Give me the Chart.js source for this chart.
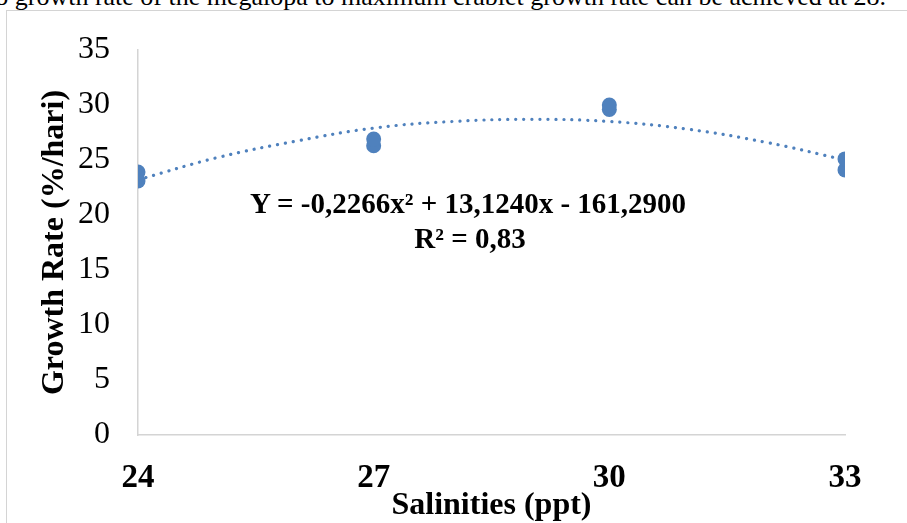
<!DOCTYPE html>
<html>
<head>
<meta charset="utf-8">
<script src="https://cdn.jsdelivr.net/npm/chart.js@4"></script>
<style>
  html, body { margin:0; padding:0; background:#fff; overflow:hidden; }
  #wrap { position:relative; width:907px; height:523px; overflow:hidden; font-family:"Liberation Serif","Times New Roman",serif; }
  #frame { position:absolute; left:6px; top:10px; width:1000px; height:600px; border:1px solid #d4d4d4; box-sizing:border-box; }
  #doc { position:absolute; left:-12px; top:-18px; white-space:nowrap; font-size:26px; color:#000; }
  #cv { position:absolute; left:0; top:0; }
  .eq { position:absolute; font-weight:bold; font-size:29px; color:#000; white-space:nowrap; transform:translate(-50%,-50%); }
</style>
</head>
<body>
<div id="wrap">
  <div id="doc">to growth rate of the megalopa to maximum crablet growth rate can be achieved at 28.</div>
  <div id="frame"></div>
  <canvas id="cv" width="907" height="523"></canvas>
  <div class="eq" style="left:468px; top:203px;">Y = -0,2266x² + 13,1240x - 161,2900</div>
  <div class="eq" style="left:470px; top:238px;">R² = 0,83</div>
</div>
<script>
// Data
const salinities = [24, 27, 30, 33];
const replicateA = [23.9, 26.9, 30.0, 25.1];
const replicateB = [23.1, 26.3, 29.6, 24.1];
const trendX = [24, 25, 26, 27, 28, 29, 30, 31, 32, 33];
const trendY = [23.2, 25.2, 26.7, 27.9, 28.5, 28.7, 28.5, 27.8, 26.6, 25.0];
const xTicks = [24, 27, 30, 33];
const yTicks = [0, 5, 10, 15, 20, 25, 30, 35];

const blue = '#4F81BD';
const ptsA = salinities.map((x, i) => ({x, y: replicateA[i]}));
const ptsB = salinities.map((x, i) => ({x, y: replicateB[i]}));
const trend = trendX.map((x, i) => ({x, y: trendY[i]}));

new Chart(document.getElementById('cv'), {
  type: 'scatter',
  data: {
    datasets: [
      { data: trend, showLine: true, pointRadius: 0, borderColor: blue, borderWidth: 3.2,
        borderDash: [0.1, 7.9], borderCapStyle: 'round', tension: 0.4, fill: false, order: 2 },
      { data: ptsA, pointRadius: 7.5, pointBackgroundColor: blue, pointBorderWidth: 0, order: 1 },
      { data: ptsB, pointRadius: 7.5, pointBackgroundColor: blue, pointBorderWidth: 0, order: 1 }
    ]
  },
  options: {
    responsive: false,
    animation: false,
    layout: { padding: { top: 50, right: 62, left: 0, bottom: 0 } },
    plugins: { legend: { display: false }, tooltip: { enabled: false } },
    scales: {
      x: {
        type: 'linear', min: 24, max: 33,
        afterBuildTicks: s => { s.ticks = xTicks.map(v => ({value: v})); },
        afterFit: s => { s.height = 88; },
        grid: { display: false, drawTicks: false },
        border: { display: true, color: '#d4d4d4', width: 1.5 },
        ticks: { color: '#000', padding: 24, maxRotation: 0, autoSkip: false,
                 font: { family: 'Liberation Serif', size: 33, weight: 'bold' } },
        title: { display: true, text: 'Salinities (ppt)', color: '#000',
                 padding: { top: 0, bottom: 0 },
                 font: { family: 'Liberation Serif', size: 32, weight: 'bold', lineHeight: 1.05 } }
      },
      y: {
        min: 0, max: 35,
        afterBuildTicks: s => { s.ticks = yTicks.map(v => ({value: v})); },
        afterFit: s => { s.width = 138; },
        grid: { display: false, drawTicks: false },
        border: { display: true, color: '#d4d4d4', width: 1.5 },
        ticks: { color: '#000', padding: 28,
                 font: { family: 'Liberation Serif', size: 32 } },
        title: { display: true, text: 'Growth Rate (%/hari)', color: '#000',
                 padding: { top: 36, bottom: 0 },
                 font: { family: 'Liberation Serif', size: 32, weight: 'bold' } }
      }
    }
  }
});
</script>
</body>
</html>
